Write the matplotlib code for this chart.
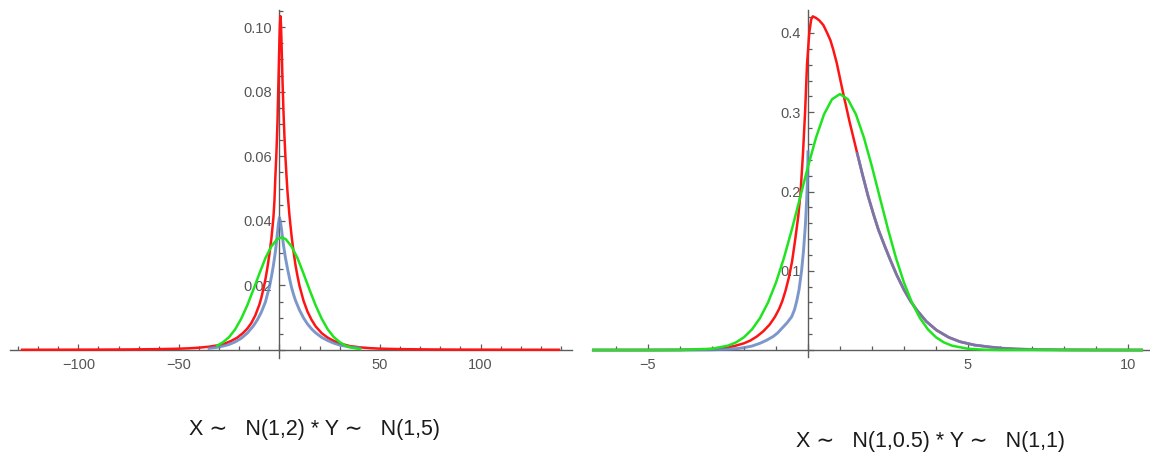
import numpy as np
import matplotlib
matplotlib.use("Agg")
import matplotlib.pyplot as plt
from matplotlib.ticker import MultipleLocator, FuncFormatter

# ---- Left panel: X ~ N(1,2) * Y ~ N(1,5) ----
left_red_x = [-128, -110, -90, -75, -60, -50, -45, -40, -35, -30, -27, -24, -21, -18, -16, -14,
              -12, -10, -9, -8, -7, -6, -5, -4, -3, -2.5, -2, -1.5, -1, -0.5, 0, 0.25, 0.5,
              0.75, 1, 1.5, 2, 2.5, 3, 3.5, 4, 5, 6, 7, 8, 9, 10, 12, 14, 16, 18, 21, 24, 27,
              30, 35, 40, 45, 50, 60, 75, 90, 110, 139]
left_red_y = [0.00005, 0.00007, 0.0001, 0.00015, 0.00025, 0.00038, 0.0005, 0.0007, 0.0010,
              0.0015, 0.0020, 0.0028, 0.0038, 0.0053, 0.0066, 0.0083, 0.0107, 0.0140, 0.0162,
              0.0188, 0.0218, 0.0254, 0.0296, 0.0345, 0.0410, 0.0460, 0.0540, 0.0610, 0.0700,
              0.0830, 0.0960, 0.1010, 0.1034, 0.1010, 0.0960, 0.0840, 0.0740, 0.0660, 0.0595,
              0.0540, 0.0490, 0.0415, 0.0355, 0.0305, 0.0262, 0.0228, 0.0198, 0.0152, 0.0118,
              0.0093, 0.0073, 0.0052, 0.0038, 0.0028, 0.0020, 0.0012, 0.0008, 0.00055, 0.0004,
              0.00025, 0.00015, 0.0001, 0.00007, 0.00005]

left_blue_x = [-35, -31, -28, -25, -22, -19, -16, -13, -11, -9, -7, -5, -4, -3, -2, -1.5, -1,
               -0.5, 0, 0.5, 1, 1.5, 2, 3, 4, 5, 6, 7, 8, 10, 12, 14, 16, 18, 21, 24, 27, 30,
               35, 40]
left_blue_y = [0.0005, 0.0008, 0.0012, 0.0017, 0.0025, 0.0036, 0.0052, 0.0074, 0.0093, 0.0117,
               0.0148, 0.0195, 0.0226, 0.0262, 0.0305, 0.0332, 0.0362, 0.0392, 0.0410, 0.0398,
               0.0375, 0.0350, 0.0325, 0.0285, 0.0252, 0.0222, 0.0194, 0.0172, 0.0153, 0.0123,
               0.0099, 0.0080, 0.0065, 0.0053, 0.0039, 0.0029, 0.0021, 0.0015, 0.0009, 0.0006]

left_green_x = [-31, -28, -25, -22, -19, -16, -13, -10, -7, -4, -1, 1, 3, 6, 9, 12, 15, 18, 21,
                24, 27, 30, 33, 36, 40]
left_green_y = [0.0013, 0.0024, 0.0040, 0.0064, 0.0097, 0.0138, 0.0186, 0.0236, 0.0284, 0.0321,
                0.0344, 0.0348, 0.0344, 0.0321, 0.0284, 0.0236, 0.0186, 0.0138, 0.0097, 0.0064,
                0.0040, 0.0024, 0.0013, 0.0007, 0.0003]

# ---- Right panel: X ~ N(1,0.5) * Y ~ N(1,1) ----
right_red_x = [-6.75, -5, -4, -3.5, -3, -2.6, -2.3, -2, -1.8, -1.6, -1.4, -1.2, -1.03, -0.9,
               -0.8, -0.7, -0.6, -0.5, -0.4, -0.3, -0.23, -0.16, -0.09, -0.03, 0.04, 0.1, 0.15,
               0.25, 0.35, 0.48, 0.6, 0.7, 0.79, 0.9, 1.0, 1.1, 1.2, 1.3, 1.42, 1.54, 1.7, 1.88,
               2.05, 2.2, 2.4, 2.56, 2.77, 3.0, 3.2, 3.4, 3.7, 4.02, 4.4, 4.75, 5.2, 5.69, 6.1,
               6.5, 7.2, 8, 9, 10.43]
right_red_y = [0.0, 0.00002, 0.0002, 0.0005, 0.0012, 0.0028, 0.0050, 0.0085, 0.0120, 0.0170,
               0.0235, 0.0320, 0.0420, 0.0520, 0.0620, 0.0750, 0.0910, 0.1110, 0.1390, 0.1700,
               0.2000, 0.2450, 0.3000, 0.3600, 0.4000, 0.4170, 0.4210, 0.4190, 0.4160, 0.4100,
               0.4000, 0.3910, 0.3790, 0.3620, 0.3430, 0.3240, 0.3060, 0.2880, 0.2680, 0.2480,
               0.2220, 0.1940, 0.1710, 0.1520, 0.1310, 0.1150, 0.0950, 0.0760, 0.0620, 0.0505,
               0.0360, 0.0250, 0.0160, 0.0105, 0.0063, 0.0038, 0.0022, 0.0013, 0.0005, 0.0002,
               0.00005, 0.0]

right_blue_x = [-6.75, -4, -3, -2.5, -2.2, -2, -1.75, -1.5, -1.3, -1.09, -0.95, -0.8, -0.65,
                -0.51, -0.42, -0.35, -0.28, -0.2, -0.14, -0.08, -0.04, -0.01, 0.0]
right_blue_y = [0.0, 0.00003, 0.0003, 0.0010, 0.0019, 0.0030, 0.0050, 0.0085, 0.0122, 0.0170,
                0.0215, 0.0280, 0.0345, 0.0420, 0.0510, 0.0620, 0.0760, 0.1000, 0.1250, 0.1580,
                0.1900, 0.2200, 0.2500]
right_blue_join = 1.54  # beyond this point the blue curve runs along the red one

right_green_x = [-6.75, -4, -3, -2.5, -2.25, -2, -1.75, -1.5, -1.25, -1, -0.75, -0.5, -0.25, 0,
                 0.25, 0.5, 0.75, 1, 1.25, 1.5, 1.75, 2, 2.25, 2.5, 2.75, 3, 3.25, 3.5, 3.75, 4,
                 4.25, 4.5, 5, 5.5, 6, 10.43]
right_green_y = [0.0, 0.00008, 0.0016, 0.0055, 0.0096, 0.0161, 0.0260, 0.0403, 0.0598, 0.0851,
                 0.1163, 0.1526, 0.1918, 0.2314, 0.2678, 0.2972, 0.3163, 0.3230, 0.3163, 0.2972,
                 0.2678, 0.2314, 0.1918, 0.1526, 0.1163, 0.0851, 0.0598, 0.0403, 0.0260, 0.0161,
                 0.0096, 0.0055, 0.0016, 0.0004, 0.0001, 0.0]

left_caption = "X \u223c   N(1,2) * Y \u223c   N(1,5)"
right_caption = "X \u223c   N(1,0.5) * Y \u223c   N(1,1)"

RED = "#ff1414"
BLUE = "#6586c2"
GREEN = "#1fe41f"
AXIS = "#5c5c5c"
FONT = ["Liberation Sans", "DejaVu Sans"]

plt.rcParams["font.family"] = FONT

fig = plt.figure(figsize=(11.5, 4.59), dpi=100)
fig.patch.set_facecolor("white")


def style_axes(ax, xmaj, xmin, ymaj, ymin, yfmt):
    ax.set_axisbelow(True)
    for side in ("top", "right"):
        ax.spines[side].set_visible(False)
    ax.spines["left"].set_position(("data", 0))
    ax.spines["bottom"].set_position(("data", 0))
    for side in ("left", "bottom"):
        ax.spines[side].set_color(AXIS)
        ax.spines[side].set_linewidth(1.0)
    ax.xaxis.set_major_locator(MultipleLocator(xmaj))
    ax.xaxis.set_minor_locator(MultipleLocator(xmin))
    ax.yaxis.set_major_locator(MultipleLocator(ymaj))
    ax.yaxis.set_minor_locator(MultipleLocator(ymin))

    def xf(v, pos):
        if abs(v) < 1e-9:
            return ""
        return f"{v:g}".replace("-", "\u2212")

    def yf(v, pos):
        if abs(v) < 1e-9:
            return ""
        return yfmt.format(v)

    ax.xaxis.set_major_formatter(FuncFormatter(xf))
    ax.yaxis.set_major_formatter(FuncFormatter(yf))
    ax.tick_params(which="both", direction="in", color=AXIS, width=0.9)
    ax.tick_params(which="major", length=4.5)
    ax.tick_params(which="minor", length=2.8)
    ax.tick_params(axis="x", which="major", pad=6, labelsize=10.5, labelcolor="#555555")
    ax.tick_params(axis="y", which="major", pad=5, labelsize=10.5, labelcolor="#555555")
    ax.set_facecolor("none")


# Left panel
ax1 = fig.add_axes([10 / 1150, (459 - 358) / 459, 562 / 1150, 348 / 459])
ax1.plot(left_red_x, left_red_y, color=RED, lw=1.8, zorder=3, solid_joinstyle="round")
ax1.plot(left_blue_x, left_blue_y, color=BLUE, lw=2.1, alpha=0.85, zorder=4,
         solid_joinstyle="round")
ax1.plot(left_green_x, left_green_y, color=GREEN, lw=1.8, zorder=5, solid_joinstyle="round")
ax1.set_xlim(-134, 145.5)
ax1.set_ylim(-0.0025, 0.1053)
style_axes(ax1, 50, 10, 0.02, 0.005, "{:.2f}")

# Right panel
ax2 = fig.add_axes([592 / 1150, (459 - 357) / 459, 558 / 1150, 347 / 459])
rx = np.array(right_red_x)
ry = np.array(right_red_y)
ax2.plot(rx, ry, color=RED, lw=1.8, zorder=3, solid_joinstyle="round")
ax2.plot(right_blue_x, right_blue_y, color=BLUE, lw=2.1, alpha=0.85, zorder=4,
         solid_joinstyle="round")
tail = rx >= right_blue_join
ax2.plot(rx[tail], ry[tail], color=BLUE, lw=2.1, alpha=0.85, zorder=4, solid_joinstyle="round")
ax2.plot(right_green_x, right_green_y, color=GREEN, lw=1.8, zorder=5, solid_joinstyle="round")
ax2.set_xlim(-6.75, 10.69)
ax2.set_ylim(-0.0088, 0.429)
style_axes(ax2, 5, 1, 0.1, 0.02, "{:.1f}")

# Captions under each panel
fig.text(315 / 1150, 1 - 429 / 459, left_caption, ha="center", va="center",
         fontsize=15.5, color="#1a1a1a", family=FONT)
fig.text(930 / 1150, 1 - 442 / 459, right_caption, ha="center", va="center",
         fontsize=15.5, color="#1a1a1a", family=FONT)

fig.savefig("out.png", dpi=100, facecolor="white")
